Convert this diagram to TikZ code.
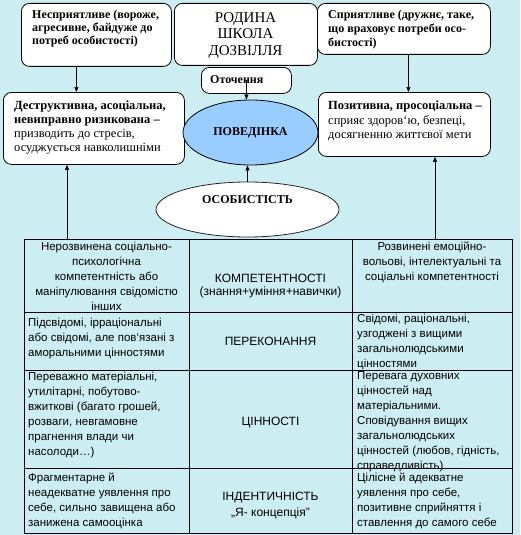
\documentclass[tikz,border=0pt]{standalone}
\usepackage{fontspec}
\setmainfont{Liberation Serif}
\newfontfamily\tabfont{Liberation Sans}
\usetikzlibrary{arrows.meta,shapes.geometric}
\definecolor{bgcol}{RGB}{204,238,242}
\definecolor{bluefill}{RGB}{153,204,255}
\begin{document}
\begin{tikzpicture}[x=1pt,y=-1pt,
  box/.style={draw=black,line width=0.8pt,fill=white,rounded corners=8pt,inner sep=0pt,anchor=north west},
  txt/.style={inner sep=0pt,align=left,anchor=north west},
  boldtxt/.style={txt,font=\fontsize{12}{13}\selectfont\bfseries},
  midtxt/.style={txt,font=\fontsize{12.5}{14}\selectfont},
  tcell/.style={inner sep=0pt,align=left,anchor=north west,font=\tabfont\fontsize{11.5}{15.2}\selectfont},
  tcellc/.style={tcell,align=center,anchor=north},
  tmid/.style={inner sep=0pt,align=center,font=\tabfont\fontsize{12}{15}\selectfont},
  arr/.style={-{Triangle[length=5pt,width=4pt]},line width=0.7pt},
  tline/.style={line width=0.8pt,draw=black}]
\fill[bgcol] (0,0) rectangle (520,535);
\useasboundingbox (0,0) rectangle (520,535);

% top row boxes
\node[box,minimum width=150pt,minimum height=63pt] (tl) at (21,3) {};
\node[boldtxt] (tltext) at (32,9.5) {Несприятливе (вороже,\\агресивне, байдуже до\\потреб особистості)};
\node[box,minimum width=143pt,minimum height=62pt] (tc) at (174,3) {};
\node[inner sep=0pt,align=center,anchor=north,font=\fontsize{15}{16.7}\selectfont] (tctext) at (245.5,12) {РОДИНА\\ШКОЛА\\ДОЗВІЛЛЯ};
\node[box,minimum width=173pt,minimum height=51pt] (tr) at (317,3) {};
\node[boldtxt,font=\fontsize{12}{14}\selectfont\bfseries] (trtext) at (328,9.5) {Сприятливе (дружнє, таке,\\що враховує потреби осо-\\бистості)};
\node[box,minimum width=90pt,minimum height=26pt] (ot) at (201,67) {};
\node[boldtxt] (ottext) at (210,75) {Оточення};

% middle boxes
\node[box,minimum width=181pt,minimum height=72pt] (lm) at (3,92) {};
\node[midtxt] (lmtext) at (14,101) {\textbf{Деструктивна, асоціальна,}\\\textbf{невиправно ризикована –}\\призводить до стресів,\\осуджується навколишніми};
\node[box,minimum width=172pt,minimum height=64pt] (rm) at (318,92) {};
\node[midtxt,font=\fontsize{12.5}{14.5}\selectfont] (rmtext) at (328,101) {\textbf{Позитивна, просоціальна –}\\сприяє здоров‘ю, безпеці,\\досягненню життєвої мети};

% ellipses
\node[ellipse,draw=black,line width=0.8pt,fill=bluefill,minimum width=135pt,minimum height=65pt,inner sep=0pt,font=\fontsize{12}{14}\selectfont\bfseries] (pov) at (250.5,132.5) {ПОВЕДІНКА};
\node[ellipse,draw=black!85,line width=0.8pt,fill=white,minimum width=183pt,minimum height=55pt,inner sep=0pt,
  label={[font=\fontsize{12}{14}\selectfont\bfseries,yshift=9.5pt]center:ОСОБИСТІСТЬ}] (osob) at (247.5,209.5) {};

% arrows
\coordinate (a1) at ([xshift=-20pt]tl.south);
\draw[arr] (a1) -- (a1 |- lm.north);
\coordinate (a2) at ([xshift=4.5pt]tr.south);
\draw[arr] (a2) -- (a2 |- rm.north);
\draw[arr] (ot.center) -- (ot.center |- pov.north);
\draw[arr] (osob.north) -- (osob.north |- pov.south);
\coordinate (tabL) at (67,239);
\coordinate (tabR) at (435,239);
\draw[arr] (tabL) -- (tabL |- lm.south);
\draw[arr] (tabR) -- (tabR |- rm.south);

% table
\draw[tline] (24,239) rectangle (512,533);
\draw[tline] (189,239) -- (189,533);
\draw[tline] (352,239) -- (352,533);
\draw[tline] (24,312) -- (512,312);
\draw[tline] (24,370) -- (512,370);
\draw[tline] (24,468) -- (512,468);

% table texts
\node[tcellc] (c11) at (106.5,241.5) {Нерозвинена соціально-\\психологічна\\компетентність або\\маніпулювання свідомістю\\інших};
\node[tmid] (c12) at (270.5,286.5) {КОМПЕТЕНТНОСТІ\\[-2pt](знання+уміння+навички)};
\node[tcellc] (c13) at (432,241.5) {Розвинені емоційно-\\вольові, інтелектуальні та\\соціальні компетентності};

\node[tcell] (c21) at (28,317.5) {Підсвідомі, ірраціональні\\або свідомі, але пов‘язані з\\аморальними цінностями};
\node[tmid] (c22) at (270.5,341) {ПЕРЕКОНАННЯ};
\node[tcell] (c23) at (357,313.5) {Свідомі, раціональні,\\узгоджені з вищими\\загальнолюдськими\\цінностями};

\node[tcell,font=\tabfont\fontsize{11.5}{15}\selectfont] (c31) at (28,371.5) {Переважно матеріальні,\\утилітарні, побутово-\\вжиткові (багато грошей,\\розваги, невгамовне\\прагнення влади чи\\насолоди…)};
\node[tmid] (c32) at (270.5,423) {ЦІННОСТІ};
\node[tcell,font=\tabfont\fontsize{11.5}{15}\selectfont] (c33) at (357,371.5) {Перевага духовних\\цінностей над\\матеріальними.\\Сповідування вищих\\загальнолюдських\\цінностей (любов, гідність,\\справедливість)};

\node[tcell,font=\tabfont\fontsize{11.5}{15}\selectfont] (c41) at (28,472.5) {Фрагментарне й\\неадекватне уявлення про\\себе, сильно завищена або\\занижена самооцінка};
\node[tmid,font=\tabfont\fontsize{12}{16}\selectfont] (c42) at (270.5,505) {ІНДЕНТИЧНІСТЬ\\„Я- концепція”};
\node[tcell,font=\tabfont\fontsize{11.5}{15}\selectfont] (c43) at (357,472.5) {Цілісне й адекватне\\уявлення про себе,\\позитивне сприйняття і\\ставлення до самого себе};
\end{tikzpicture}
\end{document}
